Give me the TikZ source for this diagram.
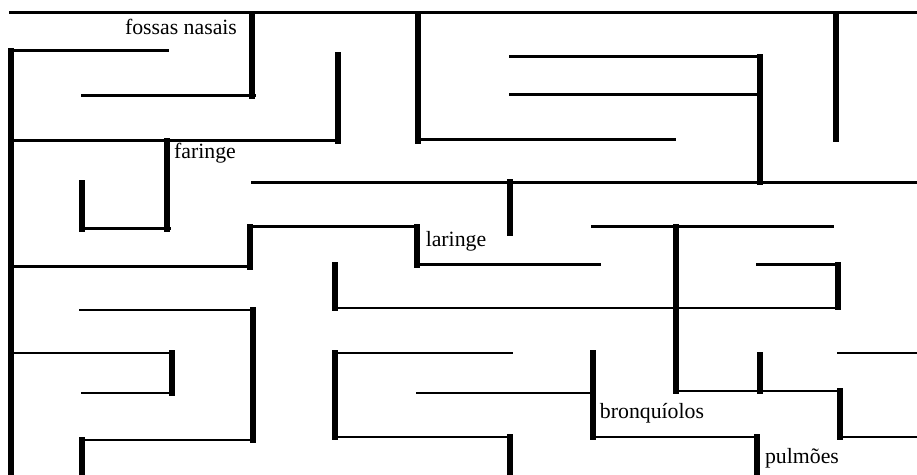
\documentclass[tikz,border=0pt]{standalone}
\usepackage{fontspec}
\setmainfont{Liberation Serif}

\begin{document}
\begin{tikzpicture}[x=0.02cm, y=-0.02cm,
      hwall/.style={line width=1.7pt, line cap=rect},
      vwall/.style={line width=2.9pt, line cap=rect},
      organ/.style={inner sep=0pt, font=\fontsize{12.4}{14}\selectfont}]
    \useasboundingbox (0,0) rectangle (917,475);
    % horizontal walls: y / x1 / x2
    \foreach \y/\a/\b in {13/10/917, 51/11/168, 96/82/255, 57/510/762,
        95/510/762, 141/11/340, 140/418/675, 183/252/917, 229/82/170,
        227/250/418, 227/592/833, 267/11/250, 265/417/600, 265/757/838,
        308/335/838, 310/80/255, 353/11/172, 393/82/172, 440/82/255,
        353/335/512, 393/417/593, 437/335/510, 437/593/757, 391/676/840,
        437/840/917, 353/838/917}
      \draw[hwall] (\a,\y) -- (\b,\y);
    % vertical walls: x / y1 / y2
    \foreach \x/\a/\b in {11/51/475, 252/14/96, 338/55/141, 418/14/141,
        836/14/139, 760/57/182, 167/141/229, 82/183/229, 510/182/233,
        250/227/267, 417/227/265, 335/265/308, 838/265/307, 676/227/391,
        253/310/440, 82/440/475, 172/353/393, 335/353/437, 510/437/475,
        593/353/437, 757/437/475, 760/355/391, 840/391/437}
      \draw[vwall] (\x,\a) -- (\x,\b);
    % labels
    \node[organ] (fossas) at (181,27) {fossas nasais};
    \node[organ] (faringe) at (205,153) {faringe};
    \node[organ] (laringe) at (456,241) {laringe};
    \node[organ] (bronq) at (652,413) {bronquíolos};
    \node[organ] (pulm) at (802,458) {pulmões};
\end{tikzpicture}
\end{document}
